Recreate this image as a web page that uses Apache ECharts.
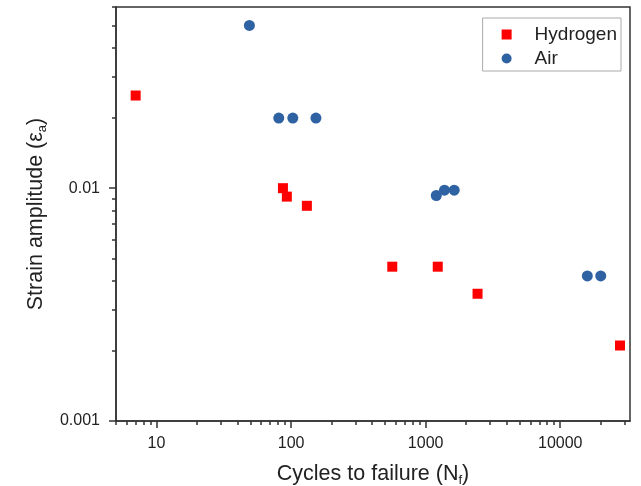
<!DOCTYPE html>
<html>
<head>
<meta charset="utf-8">
<script src="https://cdn.jsdelivr.net/npm/echarts@6/dist/echarts.min.js"></script>
<style>
  html, body { margin: 0; padding: 0; background: #fff; }
  #chart { width: 641px; height: 486px; }
</style>
</head>
<body>
<div id="chart"></div>
<script>
// cycles to failure (Nf) and strain amplitude for each environment
var hydrogenCycles = [7, 87, 93, 131, 565, 1230, 2430, 27800];
var hydrogenStrain = [0.025, 0.0100, 0.0092, 0.0084, 0.0046, 0.0046, 0.00352, 0.00211];
var airCycles = [49, 81, 103, 153, 1200, 1380, 1630, 15900, 20000];
var airStrain = [0.050, 0.020, 0.020, 0.020, 0.0093, 0.0098, 0.0098, 0.0042, 0.0042];

var xTickLabels = [10, 100, 1000, 10000];
var yTickLabels = [0.001, 0.01];

// minor ticks at 2..9 of every decade
var xMinor = [];
var yMinor = [];
[1, 10, 100, 1000, 10000].forEach(function (d) {
    for (var k = 2; k <= 9; k++) xMinor.push(k * d);
});
[0.001, 0.01].forEach(function (d) {
    for (var k = 2; k <= 9; k++) yMinor.push(+(k * d).toPrecision(3));
});

function pairs(xs, ys) {
    return xs.map(function (x, i) { return [x, ys[i]]; });
}

var font = 'Liberation Sans, Arial, sans-serif';
var lineCol = '#333';
function titleRich(size) {
    return {
        t: { fontSize: size, color: '#222', fontFamily: font },
        s: { fontSize: 13, color: '#222', fontFamily: font, verticalAlign: 'bottom', padding: [13, 0, 0, 0] }
    };
}

var myChart = echarts.init(document.getElementById('chart'));
option = {
    backgroundColor: '#fff',
    animation: false,
    textStyle: { fontFamily: font },
    grid: {
        left: 116,
        right: 11,
        top: 7,
        bottom: 65,
        containLabel: false,
        outerBoundsMode: 'none',
        show: true,
        borderColor: lineCol,
        borderWidth: 1.5,
        backgroundColor: 'transparent'
    },
    legend: {
        orient: 'vertical',
        right: 20,
        top: 18,
        padding: [7, 4, 3, 19],
        itemGap: 5,
        itemWidth: 10,
        itemHeight: 10,
        borderColor: '#aaa',
        borderWidth: 1,
        borderRadius: 0,
        textStyle: { fontSize: 19, color: '#222', fontFamily: font, padding: [0, 0, 0, 18] },
        data: ['Hydrogen', 'Air']
    },
    xAxis: [{
        type: 'log',
        min: 5,
        max: 33000,
        position: 'bottom',
        name: '{t|Cycles to failure (N}{s|f}{t|)}',
        nameLocation: 'middle',
        nameGap: 40,
        nameTextStyle: { rich: titleRich(21.5) },
        axisLine: { lineStyle: { color: lineCol, width: 1.5 } },
        axisTick: { customValues: xTickLabels, length: 7, lineStyle: { color: lineCol, width: 1.5 } },
        axisLabel: {
            customValues: xTickLabels,
            margin: 15,
            fontSize: 16,
            color: '#222',
            formatter: function (v) { return String(v); }
        },
        splitLine: { show: false }
    }, {
        type: 'log',
        min: 5,
        max: 33000,
        position: 'bottom',
        axisLine: { show: false },
        axisTick: { customValues: xMinor, length: 4, lineStyle: { color: lineCol, width: 1.5 } },
        axisLabel: { show: false },
        splitLine: { show: false }
    }],
    yAxis: [{
        type: 'log',
        min: 0.001,
        max: 0.06,
        position: 'left',
        name: '{t|Strain amplitude (ε}{s|a}{t|)}',
        nameLocation: 'middle',
        nameGap: 59,
        nameTextStyle: { rich: titleRich(21.5) },
        axisLine: { lineStyle: { color: lineCol, width: 1.5 } },
        axisTick: { customValues: yTickLabels, length: 7, lineStyle: { color: lineCol, width: 1.5 } },
        axisLabel: {
            customValues: yTickLabels,
            margin: 16,
            fontSize: 16,
            color: '#222',
            formatter: function (v) { return String(v); }
        },
        splitLine: { show: false }
    }, {
        type: 'log',
        min: 0.001,
        max: 0.06,
        position: 'left',
        axisLine: { show: false },
        axisTick: { customValues: yMinor, length: 4, lineStyle: { color: lineCol, width: 1.5 } },
        axisLabel: { show: false },
        splitLine: { show: false }
    }],
    series: [{
        name: 'Hydrogen',
        type: 'scatter',
        symbol: 'rect',
        symbolSize: 10,
        itemStyle: { color: '#ff0000', opacity: 1 },
        data: pairs(hydrogenCycles, hydrogenStrain)
    }, {
        name: 'Air',
        type: 'scatter',
        symbol: 'circle',
        symbolSize: 11,
        itemStyle: { color: '#2f62a2', opacity: 1 },
        data: pairs(airCycles, airStrain)
    }]
};
myChart.setOption(option);
</script>
</body>
</html>
